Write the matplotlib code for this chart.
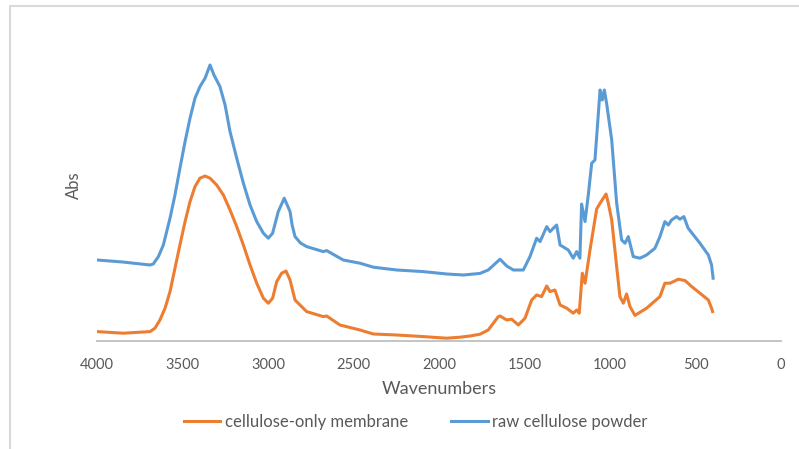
import matplotlib.pyplot as plt
from matplotlib.lines import Line2D

plt.rcParams['font.family'] = ['Lato', 'DejaVu Sans']

# raw cellulose powder (wavenumber, absorbance)
raw_wn = [4000, 3850, 3690, 3671, 3641, 3612, 3573, 3544, 3515, 3485, 3456, 3427,
          3398, 3368, 3339, 3316, 3281, 3251, 3222, 3183, 3144, 3105, 3066, 3027,
          2998, 2973, 2940, 2905, 2871, 2859, 2842, 2810, 2774, 2677, 2657, 2560,
          2462, 2384, 2247, 2092, 1955, 1858, 1760, 1712, 1680, 1643, 1604, 1565,
          1507, 1468, 1429, 1409, 1370, 1351, 1312, 1292, 1244, 1215, 1195, 1176,
          1166, 1146, 1127, 1107, 1088, 1068, 1058, 1045, 1033, 1020, 990, 961,
          932, 912, 893, 864, 825, 786, 737, 708, 679, 659, 640, 611, 591, 568,
          543, 474, 425, 406, 397]
raw_abs = [0.405, 0.395, 0.38, 0.385, 0.422, 0.48, 0.614, 0.73, 0.864, 0.997, 1.114, 1.214,
           1.272, 1.314, 1.38, 1.33, 1.272, 1.18, 1.047, 0.914, 0.789, 0.68, 0.597, 0.539,
           0.514, 0.539, 0.647, 0.714, 0.647, 0.58, 0.522, 0.49, 0.472, 0.447, 0.452, 0.405,
           0.389, 0.369, 0.355, 0.347, 0.335, 0.33, 0.338, 0.355, 0.38, 0.409, 0.375, 0.355,
           0.355, 0.422, 0.514, 0.497, 0.572, 0.547, 0.58, 0.48, 0.455, 0.414, 0.447, 0.414,
           0.685, 0.597, 0.73, 0.889, 0.905, 1.139, 1.255, 1.205, 1.255, 1.189, 1.005, 0.689,
           0.505, 0.489, 0.522, 0.422, 0.414, 0.43, 0.464, 0.522, 0.597, 0.58, 0.605, 0.622,
           0.609, 0.622, 0.564, 0.489, 0.43, 0.38, 0.314]

# cellulose-only membrane
mem_wn = [4000, 3846, 3690, 3661, 3632, 3602, 3573, 3544, 3515, 3485, 3456, 3427,
          3398, 3368, 3339, 3300, 3261, 3222, 3183, 3144, 3105, 3066, 3027, 2998,
          2973, 2949, 2920, 2895, 2871, 2842, 2774, 2677, 2657, 2579, 2462, 2384,
          2247, 2092, 1955, 1877, 1819, 1760, 1712, 1690, 1653, 1643, 1604, 1575, 1536,
          1497, 1458, 1429, 1400, 1370, 1351, 1322, 1292, 1253, 1215, 1195, 1180,
          1162, 1146, 1117, 1078, 1058, 1023, 1010, 990, 961, 942, 922, 903, 883,
          854, 786, 708, 679, 649, 600, 561, 522, 474, 425, 406, 400]
mem_abs = [0.047, 0.039, 0.047, 0.064, 0.105, 0.164, 0.247, 0.364, 0.48, 0.597, 0.697, 0.772,
           0.814, 0.825, 0.814, 0.78, 0.73, 0.655, 0.572, 0.48, 0.38, 0.289, 0.214, 0.189,
           0.214, 0.297, 0.339, 0.35, 0.305, 0.205, 0.147, 0.122, 0.125, 0.08, 0.055, 0.035,
           0.03, 0.022, 0.014, 0.019, 0.025, 0.034, 0.055, 0.08, 0.122, 0.125, 0.105, 0.109, 0.08,
           0.114, 0.205, 0.23, 0.222, 0.275, 0.247, 0.255, 0.18, 0.164, 0.139, 0.155, 0.139,
           0.339, 0.289, 0.455, 0.66, 0.689, 0.735, 0.689, 0.605, 0.372, 0.222, 0.189, 0.235, 0.172,
           0.128, 0.164, 0.222, 0.289, 0.289, 0.309, 0.302, 0.272, 0.239, 0.205, 0.164, 0.147]

xticks = [4000, 3500, 3000, 2500, 2000, 1500, 1000, 500, 0]

fig = plt.figure(figsize=(7.99, 4.49), dpi=100)
ax = fig.add_axes([97/799, 108/449, 684/799, 311/449])

ax.plot(mem_wn, mem_abs, color='#ED7D31', lw=2.2, label='cellulose-only membrane')
ax.plot(raw_wn, raw_abs, color='#5B9BD5', lw=2.2, label='raw cellulose powder')

ax.set_xlim(4000, 0)
ax.set_ylim(0, 1.555)
ax.set_xticks(xticks)
ax.set_yticks([])
ax.tick_params(axis='x', length=0, pad=12, labelsize=10.5, labelcolor='#595959')
for s in ['top', 'right', 'left']:
    ax.spines[s].set_visible(False)
ax.spines['bottom'].set_color('#bfbfbf')
ax.spines['bottom'].set_linewidth(1.3)

ax.set_xlabel('Wavenumbers', fontsize=13, color='#595959', labelpad=7)
ax.set_ylabel('Abs', fontsize=12, color='#595959', labelpad=11)

fig.legend(loc='center', bbox_to_anchor=(0.52, 0.06), ncol=2, frameon=False,
           fontsize=12, labelcolor='#595959', handlelength=2.2, columnspacing=2.6,
           handletextpad=0.25)

# chart border (cut off at right and bottom)
fig.add_artist(Line2D([10/799, 10/799, 1.0], [0.0, 1 - 6/449, 1 - 6/449],
                      transform=fig.transFigure, color='#d9d9d9', lw=1.5))

fig.savefig('out.png', dpi=100)
